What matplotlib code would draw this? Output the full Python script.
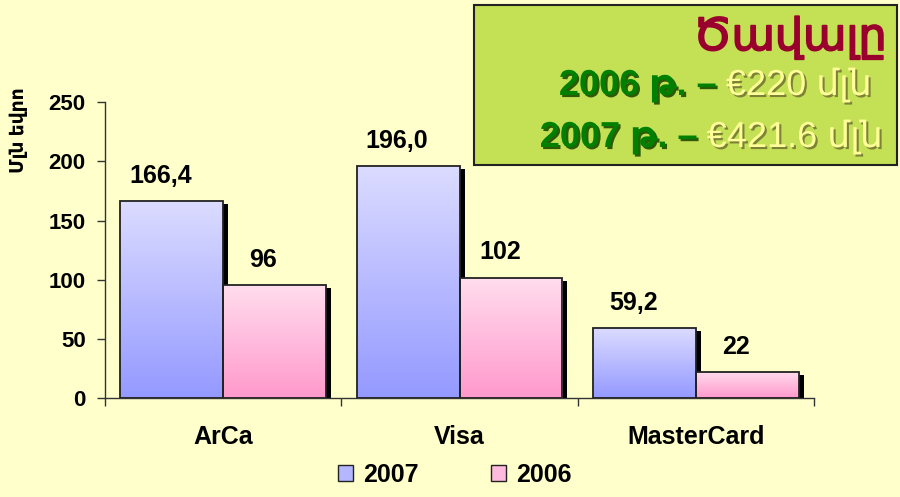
import numpy as np
import matplotlib
matplotlib.use("Agg")
import matplotlib.pyplot as plt
import matplotlib.patheffects as pe
from matplotlib.colors import LinearSegmentedColormap
from matplotlib.patches import Rectangle

plt.rcParams['font.family'] = ['Liberation Sans', 'DejaVu Sans']
plt.rcParams['font.weight'] = 'bold'

categories = ['ArCa', 'Visa', 'MasterCard']
vals_2007 = [166.4, 196.0, 59.2]
vals_2006 = [96, 102, 22]
labels_2007 = ['166,4', '196,0', '59,2']
labels_2006 = ['96', '102', '22']
yticks = [0, 50, 100, 150, 200, 250]

bg = '#FFFFCC'
blue_cm = LinearSegmentedColormap.from_list('b', ['#DCDCFF', '#9499FF'])
pink_cm = LinearSegmentedColormap.from_list('p', ['#FFDDEE', '#FF99CC'])

fig = plt.figure(figsize=(9, 4.97), dpi=100, facecolor=bg)
ax = fig.add_axes([0.1167, 0.1982, 0.7878, 0.5966], facecolor=bg)

x = np.arange(len(categories))
w = 0.435
shadow = [pe.SimplePatchShadow(offset=(3.6, -2.2), shadow_rgbFace='black', alpha=1.0), pe.Normal()]
grad = np.linspace(0, 1, 256).reshape(-1, 1)

def draw_bars(xs, vals, cmap, labels):
    bars = ax.bar(xs, vals, w, color=cmap(0.5), edgecolor='none', zorder=2, path_effects=shadow)
    for b, lab in zip(bars, labels):
        x0, h = b.get_x(), b.get_height()
        im = ax.imshow(grad, extent=[x0, x0 + w, 0, h], origin='upper', aspect='auto',
                       cmap=cmap, zorder=2.5)
        im.set_clip_path(b)
        ax.add_patch(Rectangle((x0, 0), w, h, facecolor='none', edgecolor='#222222',
                               lw=1.3, zorder=3))
        ax.annotate(lab, (x0 + w / 2, h), xytext=(-8, 13), textcoords='offset points',
                    ha='center', va='baseline', fontsize=18, fontweight='bold')
    return bars

draw_bars(x - w / 2, vals_2007, blue_cm, labels_2007)
draw_bars(x + w / 2, vals_2006, pink_cm, labels_2006)

ax.set_xlim(-0.5, 2.5)
ax.set_ylim(0, 250)
ax.set_yticks(yticks)
ax.set_xticks(x)
ax.set_xticklabels(categories)
ax.set_xticks([-0.5, 0.5, 1.5, 2.5], minor=True)
ax.tick_params(axis='x', which='major', length=0, pad=19, labelsize=18)
ax.tick_params(axis='x', which='minor', length=6, width=1, color='#333333')
ax.tick_params(axis='y', length=6, width=1, color='#333333', pad=8, labelsize=16)
for s in ['top', 'right']:
    ax.spines[s].set_visible(False)
for s in ['left', 'bottom']:
    ax.spines[s].set_color('#333333')
    ax.spines[s].set_linewidth(1)

fig.text(19 / 900, 1 - 130 / 497, 'Մլն եվրո', rotation=90, ha='center', va='center',
         fontsize=13.5, fontweight='bold')

# legend
h1 = Rectangle((0, 0), 1, 1, facecolor='#B4B6FF', edgecolor='#222222', lw=1)
h2 = Rectangle((0, 0), 1, 1, facecolor='#FFBBDD', edgecolor='#222222', lw=1)
fig.legend([h1, h2], ['2007', '2006'], loc='center', bbox_to_anchor=(0.505, 1 - 475 / 497),
           ncol=2, frameon=False, fontsize=18, handlelength=0.6, handleheight=0.6,
           handletextpad=0.4, columnspacing=2.9)

# info box
box = Rectangle((474 / 900, 1 - 165 / 497), 423 / 900, 160 / 497, transform=fig.transFigure,
                facecolor='#C4E055', edgecolor='#222222', lw=1.5, zorder=5)
fig.add_artist(box)
fig.text(887 / 900, 1 - 50 / 497, 'Ծավալը', ha='right', va='baseline', fontsize=32,
         fontweight='normal', color='#99002E', zorder=6,
         path_effects=[pe.withStroke(linewidth=1.3, foreground='#99002E')])

green_fx = [pe.SimplePatchShadow(offset=(1.5, -1.5), shadow_rgbFace='#1F4A00', alpha=0.9), pe.Normal()]
yel_fx = [pe.SimplePatchShadow(offset=(1.5, -1.5), shadow_rgbFace='#6B6B30', alpha=0.8), pe.Normal()]
renderer = fig.canvas.get_renderer()
lines = [('2006 թ. –', '€220 մլն', 872, 95), ('2007 թ. –', '€421.6 մլն', 883, 147)]
for left, right, xr, yb in lines:
    t = fig.text(xr / 900, 1 - yb / 497, right, ha='right', va='baseline', fontsize=26,
                 fontweight='normal', color='#FFFF99', path_effects=yel_fx, zorder=6)
    bb = t.get_window_extent(renderer)
    fig.text((bb.x0 - 9) / 900, 1 - yb / 497, left, ha='right', va='baseline', fontsize=26,
             fontweight='bold', color='#008000', path_effects=green_fx, zorder=6)

fig.savefig('out.png', dpi=100, facecolor=bg)
